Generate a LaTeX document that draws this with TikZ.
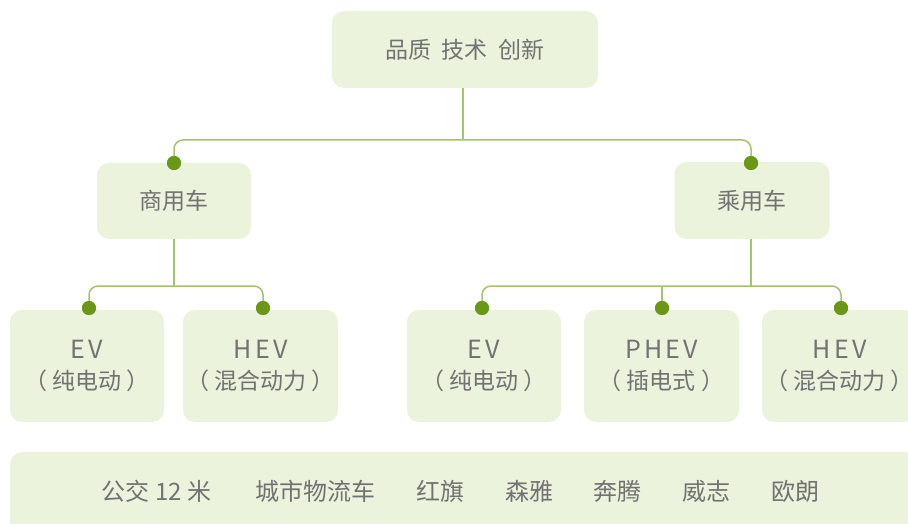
\documentclass[tikz,border=0pt]{standalone}
\usepackage{fontspec}
\setmainfont{Noto Sans CJK SC}
\definecolor{boxfill}{HTML}{EBF3DC}
\definecolor{linec}{HTML}{A3C36C}
\definecolor{dotc}{HTML}{6A9716}
\definecolor{txt}{HTML}{727272}
\newcommand{\lat}[1]{{\fontsize{25}{31}\selectfont\addfontfeature{LetterSpace=13}#1\hspace{-0.13em}}}
\newcommand{\wsp}{\hspace{0.45em}}
\begin{document}
\begin{tikzpicture}[x=1pt,y=-1pt,
  box/.style={fill=boxfill,rounded corners=12pt,inner sep=0pt,text=txt,font=\fontsize{23}{31}\selectfont,align=center},
  conn/.style={draw=linec,line width=1.5pt,rounded corners=9pt},
  dotn/.style={circle,fill=dotc,inner sep=0pt,minimum size=14pt},
  item/.style={text=txt,font=\fontsize{24}{28}\selectfont,inner sep=0pt}]
\useasboundingbox (0,0) rectangle (908,524);
% boxes
\node[box,minimum width=266pt,minimum height=77pt] (top) at (465,49.5) {品质\wsp 技术\wsp 创新};
\node[box,minimum width=154pt,minimum height=76pt] (com) at (174,201) {商用车};
\node[box,minimum width=155pt,minimum height=77pt] (pas) at (752,200.5) {乘用车};
\node[box,minimum width=154pt,minimum height=112pt] (ev1) at (87,366) {\lat{EV}\\（ 纯电动 ）};
\node[box,minimum width=155pt,minimum height=112pt] (hev1) at (260.5,366) {\lat{HEV}\\（ 混合动力 ）};
\node[box,minimum width=154pt,minimum height=112pt] (ev2) at (484,366) {\lat{EV}\\（ 纯电动 ）};
\node[box,minimum width=155pt,minimum height=112pt] (phev) at (661.5,366) {\lat{PHEV}\\（ 插电式 ）};
\node[box,minimum width=155pt,minimum height=112pt] (hev2) at (839.5,366) {\lat{HEV}\\（ 混合动力 ）};
\node[box,minimum width=920pt,minimum height=90pt,anchor=north west] (bar) at (10,452) {};
% bar items
\node[item] (b1) at (156.5,491) {公交 12 米};
\node[item] (b2) at (315,491) {城市物流车};
\node[item] (b3) at (440,491) {红旗};
\node[item] (b4) at (529,491) {森雅};
\node[item] (b5) at (617.5,491) {奔腾};
\node[item] (b6) at (706,491) {威志};
\node[item] (b7) at (795,491) {欧朗};
% dots
\node[dotn] (dc) at (174,163) {};
\node[dotn] (dp) at (751,163) {};
\node[dotn] (d1) at (89,308) {};
\node[dotn] (d2) at (263,308) {};
\node[dotn] (d3) at (482,308) {};
\node[dotn] (d4) at (662,308) {};
\node[dotn] (d5) at (841,308) {};
% junctions
\coordinate (j0) at (463,140);
\coordinate (j1) at (174,286);
\coordinate (j2) at (751,286);
% connectors
\draw[conn] (dc.center) |- (j0) -| (dp.center);
\draw[conn] (top.south -| j0) -- (j0);
\draw[conn] (d1.center) |- (j1) -| (d2.center);
\draw[conn] (com.south -| j1) -- (j1);
\draw[conn] (d3.center) |- (j2) -| (d5.center);
\draw[conn] (pas.south -| j2) -- (j2);
\draw[conn] (d4.center) -- (d4.center |- j2);
\foreach \d in {dc,dp,d1,d2,d3,d4,d5} \fill[dotc] (\d) circle (7pt);
\end{tikzpicture}
\end{document}
